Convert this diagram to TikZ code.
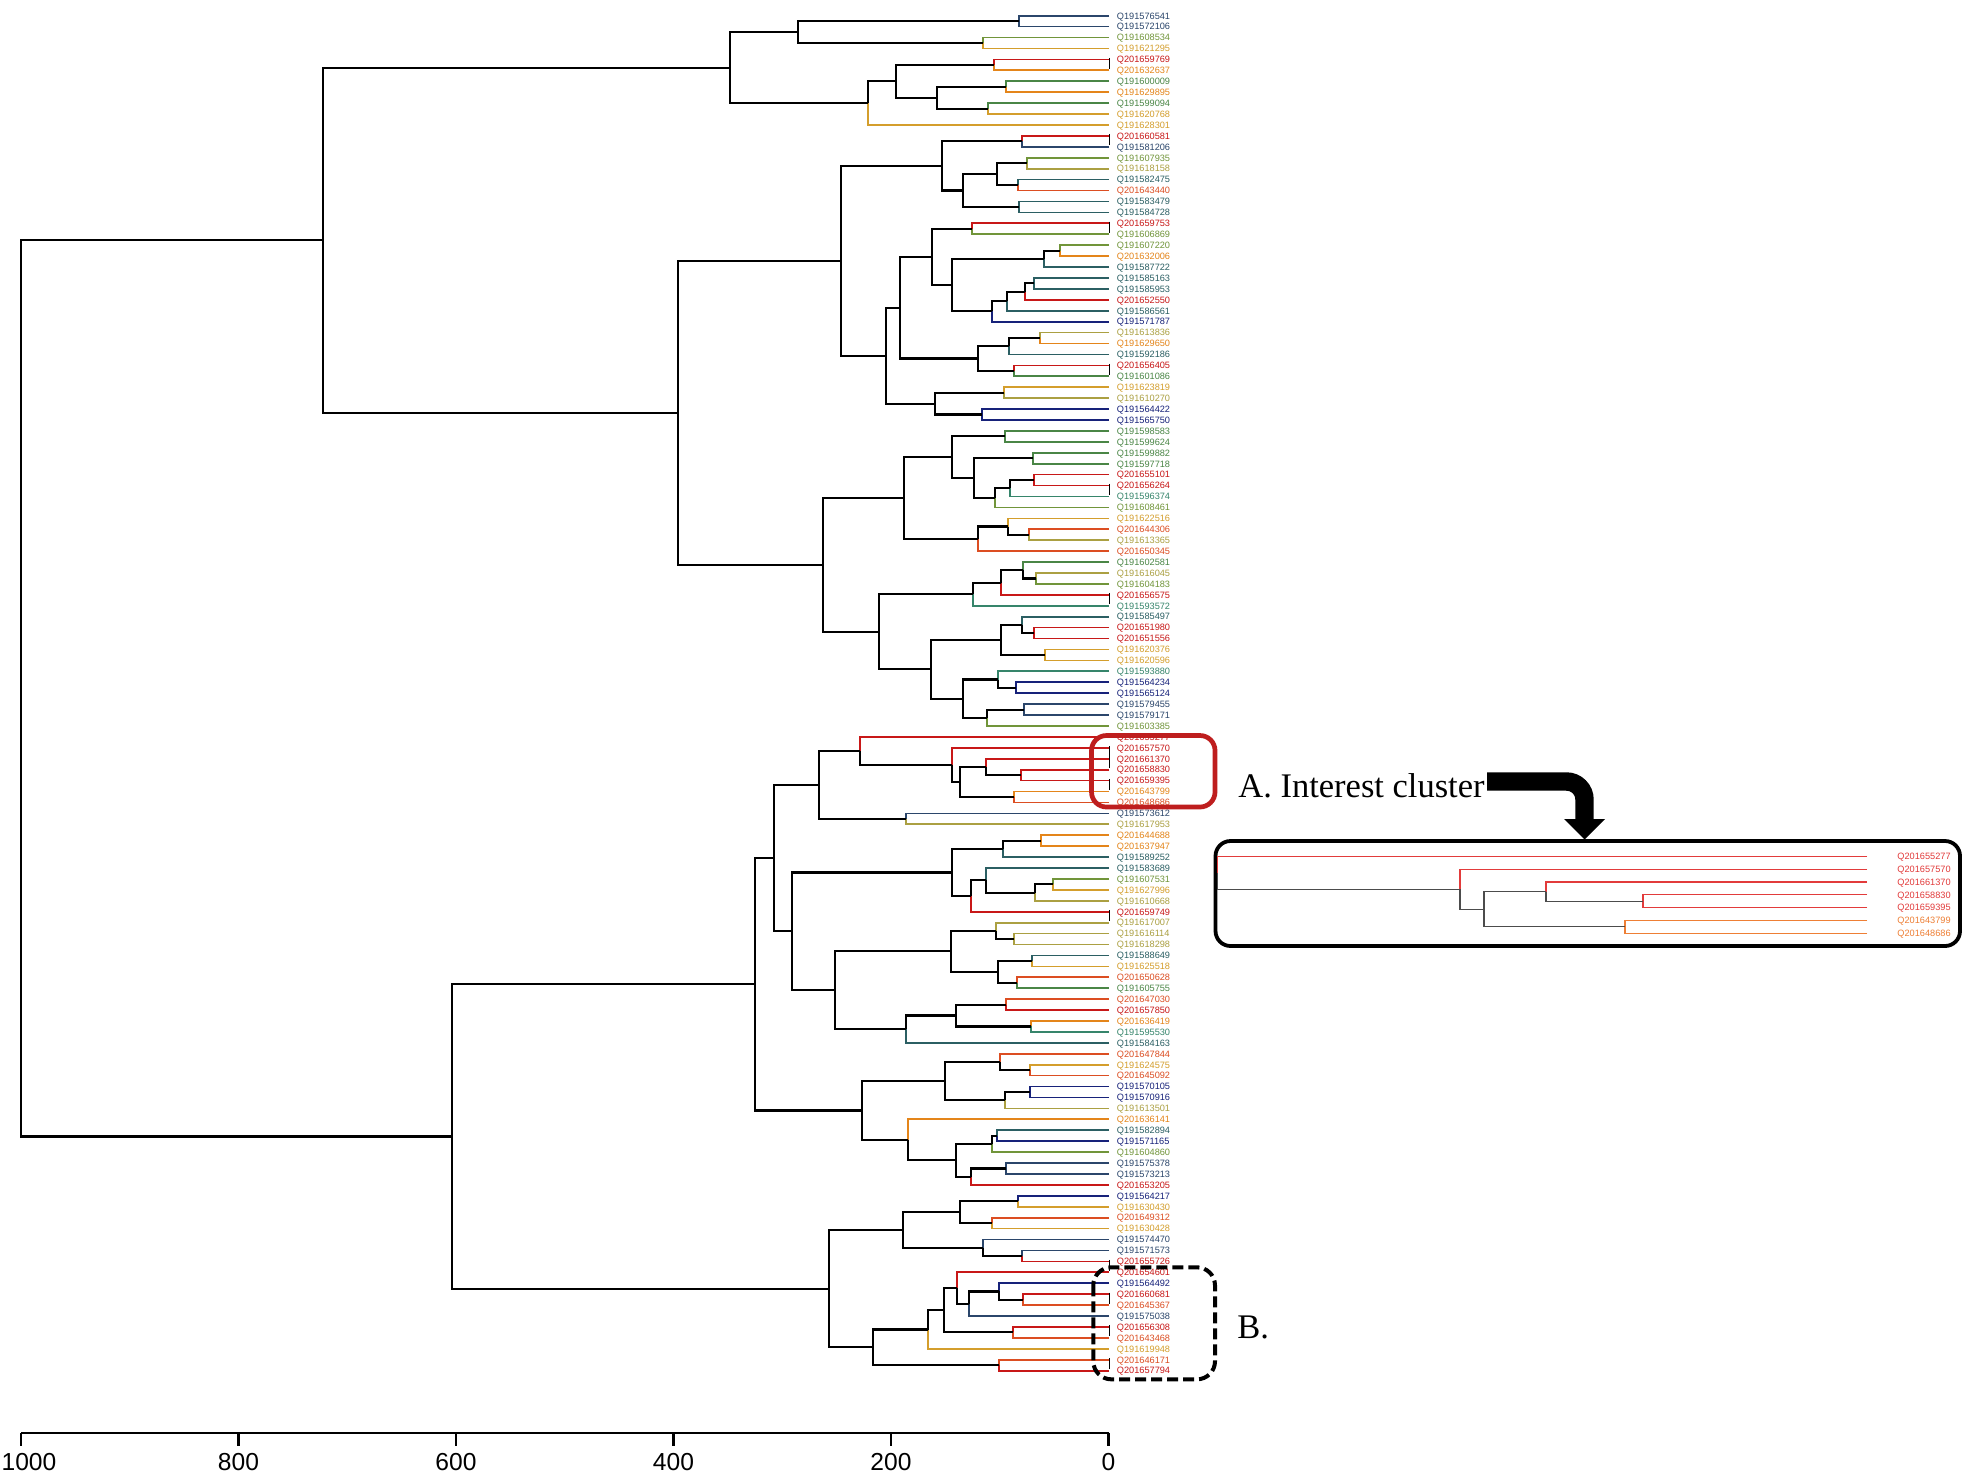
\documentclass[tikz,border=0pt]{standalone}
\usepackage{fontspec}
\setmainfont{Liberation Serif}
\newfontfamily\lsans{Liberation Sans}
\usetikzlibrary{calc}
\definecolor{rd}{HTML}{C81818}
\definecolor{orr}{HTML}{DC4E22}
\definecolor{org}{HTML}{E4851A}
\definecolor{gld}{HTML}{D49E2C}
\definecolor{kha}{HTML}{ABA042}
\definecolor{olv}{HTML}{71953A}
\definecolor{grn}{HTML}{4A8646}
\definecolor{tgr}{HTML}{36856B}
\definecolor{tea}{HTML}{2B5F63}
\definecolor{slt}{HTML}{2B466B}
\definecolor{nav}{HTML}{17227A}
\definecolor{ird}{HTML}{E23B3B}
\definecolor{iorg}{HTML}{EE7F35}
\definecolor{boxred}{HTML}{BE1E1E}
\def\incol{black}
\def\inw{1.05pt}
\newcommand\mkpt[5]{%
  \expandafter\xdef\csname ty@#1\endcsname{#3}%
  \expandafter\xdef\csname tc@#1\endcsname{#4}%
  \expandafter\xdef\csname tw@#1\endcsname{#5}%
  \coordinate (#1) at (#2,#3);%
}
\newcommand\mkjoin[4]{%
  \edef\ya{\csname ty@#3\endcsname}\edef\yb{\csname ty@#4\endcsname}%
  \pgfmathsetmacro\tmpy{(\ya+\yb)/2}%
  \mkpt{#1}{#2}{\tmpy}{\incol}{\inw}%
  \edef\tmpc{\csname tc@#3\endcsname}\edef\tmpw{\csname tw@#3\endcsname}%
  \draw[color=\tmpc,line width=\tmpw] (#3) -| (#1);%
  \edef\tmpc{\csname tc@#4\endcsname}\edef\tmpw{\csname tw@#4\endcsname}%
  \draw[color=\tmpc,line width=\tmpw] (#4) -| (#1);%
}
\newcommand\MLf[3]{%
  \pgfmathsetmacro\tmpy{15.7+(#1-1)*10.927}%
  \mkpt{L#1}{1109}{\tmpy}{#3}{0.85pt}%
  \pgfmathsetmacro\tmpb{\tmpy+3.3}%
  \node[leaflab,text=#3] (T#1) at (1116.5,\tmpb) {#2};%
}
\newcommand\ILf[3]{%
  \pgfmathsetmacro\tmpy{856.4+(#1-1)*12.8}%
  \mkpt{I#1}{1867}{\tmpy}{#3}{0.65pt}%
  \pgfmathsetmacro\tmpb{\tmpy+3.3}%
  \node[insetlab,text=#3] (U#1) at (1897,\tmpb) {#2};%
}
\begin{document}
\begin{tikzpicture}[x=0.5pt,y=-0.5pt,
  leaflab/.style={font=\lsans\fontsize{4.6}{5}\selectfont,inner sep=0pt,anchor=base west},
  insetlab/.style={font=\lsans\fontsize{4.6}{5.5}\selectfont,inner sep=0pt,anchor=base west},
  tk/.style={black,line width=0.5pt},
  axisln/.style={black,line width=1.2pt},
  axislab/.style={font=\lsans\fontsize{12.3}{14}\selectfont,inner sep=0pt,anchor=base},
  bigtext/.style={font=\fontsize{17.25}{20}\selectfont,inner sep=0pt,anchor=base west}]
\useasboundingbox[fill=white] (0,0) rectangle (1969,1473);

% ---------- leaves ----------
\MLf{1}{Q191576541}{slt}
\MLf{2}{Q191572106}{slt}
\MLf{3}{Q191608534}{olv}
\MLf{4}{Q191621295}{gld}
\MLf{5}{Q201659769}{rd}
\MLf{6}{Q201632637}{org}
\MLf{7}{Q191600009}{grn}
\MLf{8}{Q191629895}{org}
\MLf{9}{Q191599094}{grn}
\MLf{10}{Q191620768}{gld}
\MLf{11}{Q191628301}{gld}
\MLf{12}{Q201660581}{rd}
\MLf{13}{Q191581206}{slt}
\MLf{14}{Q191607935}{olv}
\MLf{15}{Q191618158}{kha}
\MLf{16}{Q191582475}{tea}
\MLf{17}{Q201643440}{orr}
\MLf{18}{Q191583479}{tea}
\MLf{19}{Q191584728}{tea}
\MLf{20}{Q201659753}{rd}
\MLf{21}{Q191606869}{olv}
\MLf{22}{Q191607220}{olv}
\MLf{23}{Q201632006}{org}
\MLf{24}{Q191587722}{tea}
\MLf{25}{Q191585163}{tea}
\MLf{26}{Q191585953}{tea}
\MLf{27}{Q201652550}{rd}
\MLf{28}{Q191586561}{tea}
\MLf{29}{Q191571787}{nav}
\MLf{30}{Q191613836}{kha}
\MLf{31}{Q191629650}{org}
\MLf{32}{Q191592186}{tea}
\MLf{33}{Q201656405}{rd}
\MLf{34}{Q191601086}{grn}
\MLf{35}{Q191623819}{gld}
\MLf{36}{Q191610270}{kha}
\MLf{37}{Q191564422}{nav}
\MLf{38}{Q191565750}{nav}
\MLf{39}{Q191598583}{grn}
\MLf{40}{Q191599624}{grn}
\MLf{41}{Q191599882}{grn}
\MLf{42}{Q191597718}{grn}
\MLf{43}{Q201655101}{rd}
\MLf{44}{Q201656264}{rd}
\MLf{45}{Q191596374}{tgr}
\MLf{46}{Q191608461}{olv}
\MLf{47}{Q191622516}{gld}
\MLf{48}{Q201644306}{orr}
\MLf{49}{Q191613365}{kha}
\MLf{50}{Q201650345}{orr}
\MLf{51}{Q191602581}{grn}
\MLf{52}{Q191616045}{kha}
\MLf{53}{Q191604183}{olv}
\MLf{54}{Q201656575}{rd}
\MLf{55}{Q191593572}{tgr}
\MLf{56}{Q191585497}{tea}
\MLf{57}{Q201651980}{rd}
\MLf{58}{Q201651556}{rd}
\MLf{59}{Q191620376}{gld}
\MLf{60}{Q191620596}{gld}
\MLf{61}{Q191593880}{tgr}
\MLf{62}{Q191564234}{nav}
\MLf{63}{Q191565124}{nav}
\MLf{64}{Q191579455}{slt}
\MLf{65}{Q191579171}{slt}
\MLf{66}{Q191603385}{olv}
\MLf{67}{Q201655277}{rd}
\MLf{68}{Q201657570}{rd}
\MLf{69}{Q201661370}{rd}
\MLf{70}{Q201658830}{rd}
\MLf{71}{Q201659395}{rd}
\MLf{72}{Q201643799}{org}
\MLf{73}{Q201648686}{orr}
\MLf{74}{Q191573612}{slt}
\MLf{75}{Q191617953}{kha}
\MLf{76}{Q201644688}{org}
\MLf{77}{Q201637947}{org}
\MLf{78}{Q191589252}{tea}
\MLf{79}{Q191583689}{tea}
\MLf{80}{Q191607531}{olv}
\MLf{81}{Q191627996}{gld}
\MLf{82}{Q191610668}{kha}
\MLf{83}{Q201659749}{rd}
\MLf{84}{Q191617007}{kha}
\MLf{85}{Q191616114}{kha}
\MLf{86}{Q191618298}{kha}
\MLf{87}{Q191588649}{tea}
\MLf{88}{Q191625518}{gld}
\MLf{89}{Q201650628}{orr}
\MLf{90}{Q191605755}{grn}
\MLf{91}{Q201647030}{orr}
\MLf{92}{Q201657850}{rd}
\MLf{93}{Q201636419}{org}
\MLf{94}{Q191595530}{tgr}
\MLf{95}{Q191584163}{tea}
\MLf{96}{Q201647844}{orr}
\MLf{97}{Q191624575}{gld}
\MLf{98}{Q201645092}{orr}
\MLf{99}{Q191570105}{nav}
\MLf{100}{Q191570916}{nav}
\MLf{101}{Q191613501}{kha}
\MLf{102}{Q201636141}{org}
\MLf{103}{Q191582894}{tea}
\MLf{104}{Q191571165}{nav}
\MLf{105}{Q191604860}{olv}
\MLf{106}{Q191575378}{slt}
\MLf{107}{Q191573213}{slt}
\MLf{108}{Q201653205}{rd}
\MLf{109}{Q191564217}{nav}
\MLf{110}{Q191630430}{gld}
\MLf{111}{Q201649312}{orr}
\MLf{112}{Q191630428}{gld}
\MLf{113}{Q191574470}{slt}
\MLf{114}{Q191571573}{slt}
\MLf{115}{Q201655726}{rd}
\MLf{116}{Q201654601}{rd}
\MLf{117}{Q191564492}{nav}
\MLf{118}{Q201660681}{rd}
\MLf{119}{Q201645367}{orr}
\MLf{120}{Q191575038}{slt}
\MLf{121}{Q201656308}{rd}
\MLf{122}{Q201643468}{orr}
\MLf{123}{Q191619948}{gld}
\MLf{124}{Q201646171}{orr}
\MLf{125}{Q201657794}{rd}

% ---------- joins: 1-11 ----------
\mkjoin{n1t2}{1019}{L1}{L2}
\mkjoin{n3t4}{983}{L3}{L4}
\mkjoin{n1t4}{797.7}{n1t2}{n3t4}
\mkjoin{n5t6}{993.7}{L5}{L6}
\mkjoin{n7t8}{1006.3}{L7}{L8}
\mkjoin{n9t10}{987.7}{L9}{L10}
\mkjoin{n7t10}{937}{n7t8}{n9t10}
\mkjoin{n5t10}{896}{n5t6}{n7t10}
\mkjoin{n5t11}{867.7}{n5t10}{L11}
\mkjoin{n1t11}{730}{n1t4}{n5t11}
% 12-19
\mkjoin{n12t13}{1022}{L12}{L13}
\mkjoin{n14t15}{1027}{L14}{L15}
\mkjoin{n16t17}{1018}{L16}{L17}
\mkjoin{n14t17}{996.7}{n14t15}{n16t17}
\mkjoin{n18t19}{1019}{L18}{L19}
\mkjoin{n14t19}{963}{n14t17}{n18t19}
\mkjoin{n12t19}{942}{n12t13}{n14t19}
% 20-38
\mkjoin{n20t21}{971.7}{L20}{L21}
\mkjoin{n22t23}{1059.7}{L22}{L23}
\mkjoin{n22t24}{1044}{n22t23}{L24}
\mkjoin{n25t26}{1033.7}{L25}{L26}
\mkjoin{n25t27}{1024.7}{n25t26}{L27}
\mkjoin{n25t28}{1007}{n25t27}{L28}
\mkjoin{n25t29}{991.7}{n25t28}{L29}
\mkjoin{n22t29}{951.7}{n22t24}{n25t29}
\mkjoin{n20t29}{931.7}{n20t21}{n22t29}
\mkjoin{n30t31}{1039.7}{L30}{L31}
\mkjoin{n30t32}{1009}{n30t31}{L32}
\mkjoin{n33t34}{1013.7}{L33}{L34}
\mkjoin{n30t34}{977.7}{n30t32}{n33t34}
\mkjoin{n20t34}{900}{n20t29}{n30t34}
\mkjoin{n35t36}{1003.7}{L35}{L36}
\mkjoin{n37t38}{981.7}{L37}{L38}
\mkjoin{n35t38}{935}{n35t36}{n37t38}
\mkjoin{n20t38}{885.7}{n20t34}{n35t38}
\mkjoin{n12t38}{841.3}{n12t19}{n20t38}
% 39-66
\mkjoin{n39t40}{1004.7}{L39}{L40}
\mkjoin{n41t42}{1033}{L41}{L42}
\mkjoin{n43t44}{1033.7}{L43}{L44}
\mkjoin{n43t45}{1010}{n43t44}{L45}
\mkjoin{n43t46}{994.7}{n43t45}{L46}
\mkjoin{n41t46}{973.7}{n41t42}{n43t46}
\mkjoin{n39t46}{951.7}{n39t40}{n41t46}
\mkjoin{n48t49}{1029}{L48}{L49}
\mkjoin{n47t49}{1007.7}{L47}{n48t49}
\mkjoin{n47t50}{978.3}{n47t49}{L50}
\mkjoin{n39t50}{903.7}{n39t46}{n47t50}
\mkjoin{n52t53}{1035.7}{L52}{L53}
\mkjoin{n51t53}{1022.7}{L51}{n52t53}
\mkjoin{n51t54}{1001.3}{n51t53}{L54}
\mkjoin{n51t55}{972.7}{n51t54}{L55}
\mkjoin{n57t58}{1033.7}{L57}{L58}
\mkjoin{n56t58}{1022}{L56}{n57t58}
\mkjoin{n59t60}{1044.7}{L59}{L60}
\mkjoin{n56t60}{1001}{n56t58}{n59t60}
\mkjoin{n62t63}{1015.7}{L62}{L63}
\mkjoin{n61t63}{998}{L61}{n62t63}
\mkjoin{n64t65}{1024}{L64}{L65}
\mkjoin{n64t66}{986.7}{n64t65}{L66}
\mkjoin{n61t66}{963}{n61t63}{n64t66}
\mkjoin{n56t66}{930.7}{n56t60}{n61t66}
\mkjoin{n51t66}{879}{n51t55}{n56t66}
\mkjoin{n39t66}{822.7}{n39t50}{n51t66}
\mkjoin{n12t66}{678}{n12t38}{n39t66}
\mkjoin{n1t66}{322.7}{n1t11}{n12t66}
% 67-75
\mkjoin{n70t71}{1021}{L70}{L71}
\mkjoin{n69t71}{985.7}{L69}{n70t71}
\mkjoin{n72t73}{1014.3}{L72}{L73}
\mkjoin{n69t73}{960.3}{n69t71}{n72t73}
\mkjoin{n68t73}{952.3}{L68}{n69t73}
\mkjoin{n67t73}{860}{L67}{n68t73}
\mkjoin{n74t75}{906}{L74}{L75}
\mkjoin{n67t75}{819}{n67t73}{n74t75}
% 76-83
\mkjoin{n76t77}{1040.7}{L76}{L77}
\mkjoin{n76t78}{1002.7}{n76t77}{L78}
\mkjoin{n80t81}{1053.3}{L80}{L81}
\mkjoin{n80t82}{1034.7}{n80t81}{L82}
\mkjoin{n79t82}{986}{L79}{n80t82}
\mkjoin{n79t83}{970.7}{n79t82}{L83}
\mkjoin{n76t83}{951.7}{n76t78}{n79t83}
% 84-95
\mkjoin{n85t86}{1013.7}{L85}{L86}
\mkjoin{n84t86}{995.7}{L84}{n85t86}
\mkjoin{n87t88}{1032.3}{L87}{L88}
\mkjoin{n89t90}{1016.7}{L89}{L90}
\mkjoin{n87t90}{997.7}{n87t88}{n89t90}
\mkjoin{n84t90}{950.7}{n84t86}{n87t90}
\mkjoin{n91t92}{1005.7}{L91}{L92}
\mkjoin{n93t94}{1030.7}{L93}{L94}
\mkjoin{n91t94}{956.3}{n91t92}{n93t94}
\mkjoin{n91t95}{906}{n91t94}{L95}
\mkjoin{n84t95}{835}{n84t90}{n91t95}
\mkjoin{n76t95}{791.7}{n76t83}{n84t95}
\mkjoin{n67t95}{774}{n67t75}{n76t95}
% 96-108
\mkjoin{n97t98}{1029.7}{L97}{L98}
\mkjoin{n96t98}{1000}{L96}{n97t98}
\mkjoin{n99t100}{1029.7}{L99}{L100}
\mkjoin{n99t101}{1004.7}{n99t100}{L101}
\mkjoin{n96t101}{945}{n96t98}{n99t101}
\mkjoin{n103t104}{996.7}{L103}{L104}
\mkjoin{n103t105}{991.7}{n103t104}{L105}
\mkjoin{n106t107}{1005.7}{L106}{L107}
\mkjoin{n106t108}{971}{n106t107}{L108}
\mkjoin{n103t108}{955.7}{n103t105}{n106t108}
\mkjoin{n102t108}{907.7}{L102}{n103t108}
\mkjoin{n96t108}{861.7}{n96t101}{n102t108}
\mkjoin{n67t108}{755}{n67t95}{n96t108}
% 109-125
\mkjoin{n109t110}{1017.7}{L109}{L110}
\mkjoin{n111t112}{991.7}{L111}{L112}
\mkjoin{n109t112}{959.7}{n109t110}{n111t112}
\mkjoin{n114t115}{1022}{L114}{L115}
\mkjoin{n113t115}{982.7}{L113}{n114t115}
\mkjoin{n109t115}{903.3}{n109t112}{n113t115}
\mkjoin{n118t119}{1022.7}{L118}{L119}
\mkjoin{n117t119}{998.7}{L117}{n118t119}
\mkjoin{n117t120}{969.3}{n117t119}{L120}
\mkjoin{n116t120}{956.7}{L116}{n117t120}
\mkjoin{n121t122}{1012.7}{L121}{L122}
\mkjoin{n116t122}{944}{n116t120}{n121t122}
\mkjoin{n116t123}{927.7}{n116t122}{L123}
\mkjoin{n124t125}{998.7}{L124}{L125}
\mkjoin{n116t125}{872.7}{n116t123}{n124t125}
\mkjoin{n109t125}{828.7}{n109t115}{n116t125}
\mkjoin{n67t125}{452}{n67t108}{n109t125}
% root
\mkjoin{root}{21.3}{n1t66}{n67t125}

% small black ticks at leaf ends
\foreach \a/\b in {5/6,12/13,20/21,33/34,44/45,54/55,68/69,69/70,71/72,83/84,115/116,118/119,121/122,124/125}
  \draw[tk] ([yshift=0.8pt]L\a) -- ([yshift=0.8pt]L\b);

% ---------- axis ----------
\coordinate (axL) at (21,1433);
\coordinate (axR) at (1108.5,1433);
\draw[axisln] (axL) -- (axR);
\foreach \d/\lx in {1000/29,800/238.5,600/456,400/673.5,200/891,0/1108.5}{
  \pgfmathsetmacro\xx{1108.5-\d*1.0875}
  \coordinate (tk\d) at (\xx,1433);
  \draw[axisln] (tk\d) -- ++(0,13);
  \node[axislab] (axl\d) at (\lx,1470) {\d};
}

% ---------- cluster A box, label and arrow ----------
\draw[boxred,line width=2.35pt,rounded corners=7.5pt] (1091.5,735.5) rectangle (1215,807);
\node[bigtext] (lblA) at (1238,797) {A. Interest cluster};
\coordinate (arrS) at (1487,781.5);
\coordinate (arrC) at (1584.5,781.5);
\coordinate (arrE) at (1584.5,821);
\draw[black,line width=9.2pt,rounded corners=9pt] (arrS) -- (arrC) -- (arrE);
\fill[black] (1564,819) -- (1605,819) -- (1584.5,839.5) -- cycle;

% ---------- inset ----------
\draw[black,line width=1.9pt,rounded corners=7.5pt] (1215.5,841) rectangle (1960,946);
\ILf{1}{Q201655277}{ird}
\ILf{2}{Q201657570}{ird}
\ILf{3}{Q201661370}{ird}
\ILf{4}{Q201658830}{ird}
\ILf{5}{Q201659395}{ird}
\ILf{6}{Q201643799}{iorg}
\ILf{7}{Q201648686}{iorg}
\def\incol{black!70}
\def\inw{0.65pt}
\mkjoin{ie1}{1643}{I4}{I5}
\mkjoin{id1}{1546}{I3}{ie1}
\mkjoin{if1}{1625}{I6}{I7}
\mkjoin{ic1}{1484}{id1}{if1}
\mkjoin{ib1}{1460}{I2}{ic1}
\mkjoin{ia1}{1217.5}{I1}{ib1}

% ---------- cluster B ----------
\draw[black,line width=2pt,dash pattern=on 5.5pt off 2.5pt,rounded corners=9pt] (1093.3,1267.3) rectangle (1215,1379.3);
\node[bigtext] (lblB) at (1237,1338) {B.};
\end{tikzpicture}
\end{document}
